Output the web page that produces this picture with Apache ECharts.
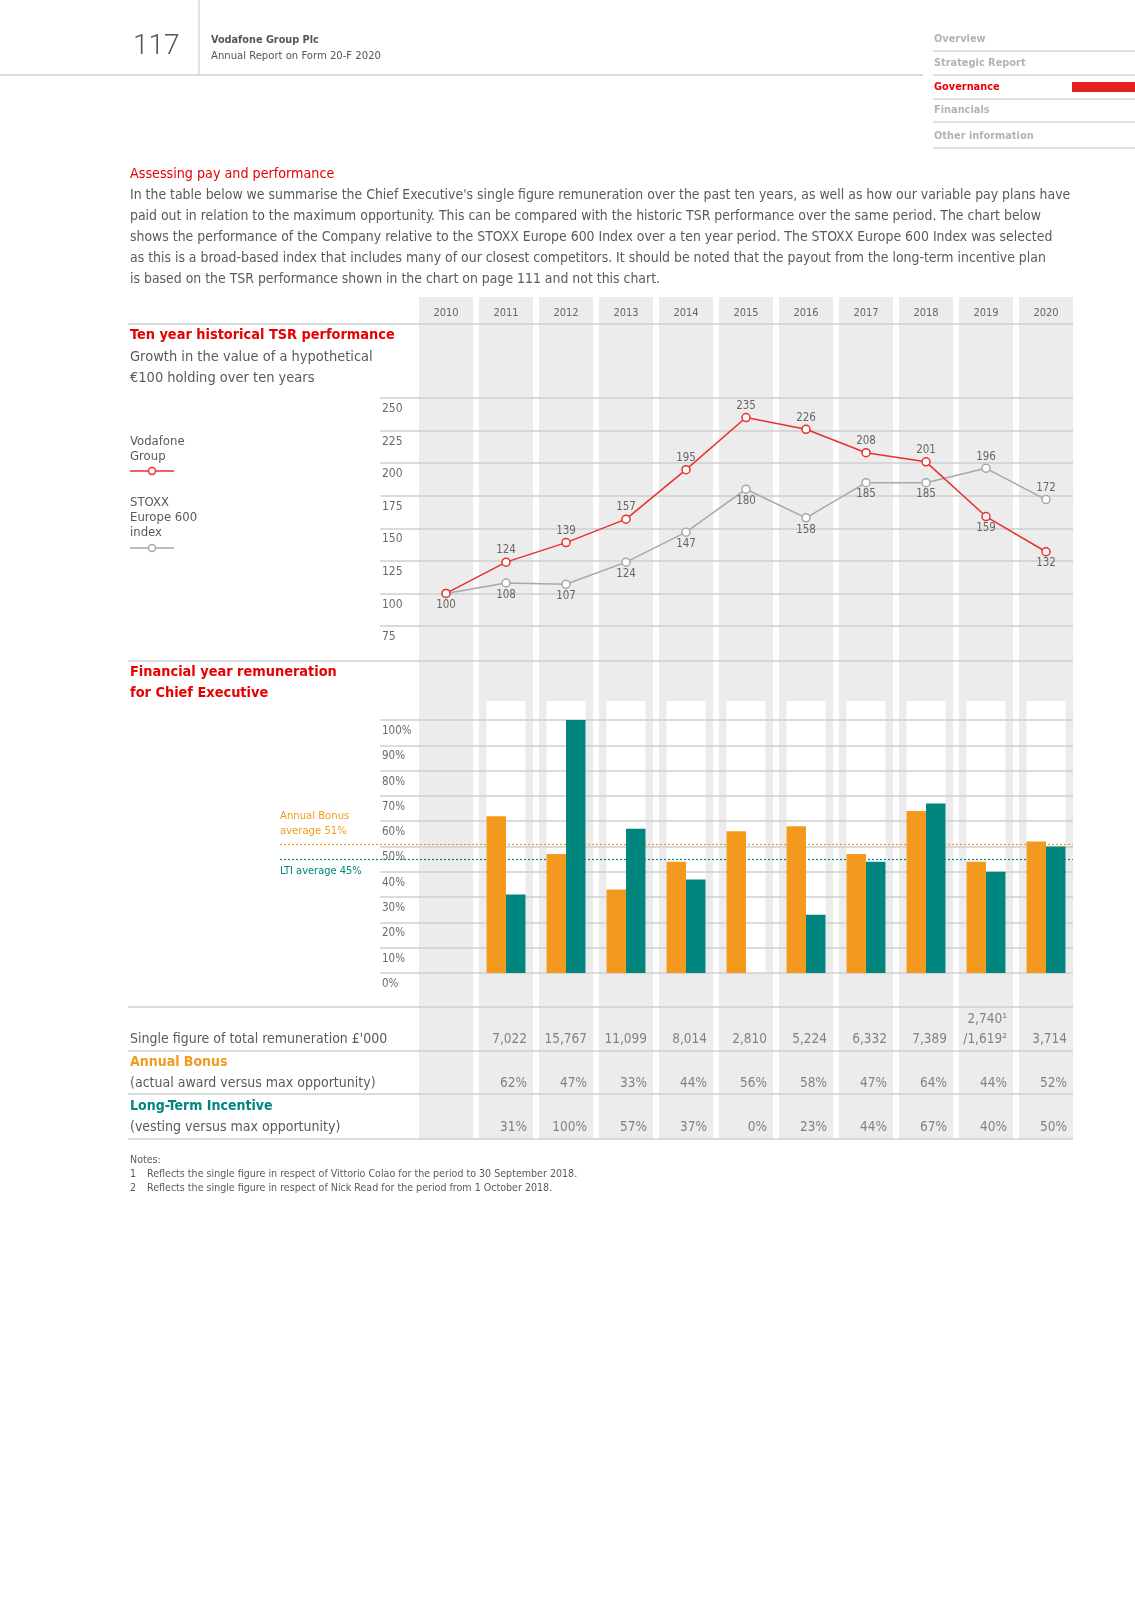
<!DOCTYPE html>
<html><head><meta charset="utf-8">
<script src="https://cdn.jsdelivr.net/npm/echarts@6/dist/echarts.min.js"></script>
<style>html,body{margin:0;padding:0;background:#fff}#c{width:1135px;height:1606px}</style>
</head><body><div id="c"></div>
<script>
// ---------- data ----------
const years = ['2010','2011','2012','2013','2014','2015','2016','2017','2018','2019','2020'];
const vodafoneTSR = [100,124,139,157,195,235,226,208,201,159,132];
const stoxxTSR    = [100,108,107,124,147,180,158,185,185,196,172];
const tsrAxisMin = 75, tsrAxisMax = 250, tsrAxisStep = 25;
const annualBonus = [null,62,47,33,44,56,58,47,64,44,52];
const longTermIncentive = [null,31,100,57,37,0,23,44,67,40,50];
const pctAxisMin = 0, pctAxisMax = 100, pctAxisStep = 10;
const bonusAverage = 51;
const ltiAverage = 45;
const singleFigure = [null,7022,15767,11099,8014,2810,5224,6332,7389,[2740,1619],3714];
const tableRowTitles = ["Single figure of total remuneration £'000", 'Annual Bonus', 'Long-Term Incentive'];
const tableRowSubtitles = ['', '(actual award versus max opportunity)', '(vesting versus max opportunity)'];
const navItems = ['Overview','Strategic Report','Governance','Financials','Other information'];
const introLines = [
  "In the table below we summarise the Chief Executive's single figure remuneration over the past ten years, as well as how our variable pay plans have",
  "paid out in relation to the maximum opportunity. This can be compared with the historic TSR performance over the same period. The chart below",
  "shows the performance of the Company relative to the STOXX Europe 600 Index over a ten year period. The STOXX Europe 600 Index was selected",
  "as this is a broad-based index that includes many of our closest competitors. It should be noted that the payout from the long-term incentive plan",
  "is based on the TSR performance shown in the chart on page 111 and not this chart."
];
const notes = [
  ['1','Reflects the single figure in respect of Vittorio Colao for the period to 30 September 2018.'],
  ['2','Reflects the single figure in respect of Nick Read for the period from 1 October 2018.']
];

// ---------- styles ----------
const F = "'DejaVu Sans Condensed','Liberation Sans',sans-serif";
const RED = '#e60000', LINE_RED = '#e8302e', GREY_LINE = '#a8a8a8';
const ORANGE = '#f39a1e', TEAL = '#00867f', TXT = '#5a5a5a', RULE = '#cfcfcf', BAND = '#ececec';

const fmtNum = v => v.toLocaleString('en-GB');
const fmtFigure = v => Array.isArray(v) ? fmtNum(v[0]) + '¹\n/' + fmtNum(v[1]) + '²' : fmtNum(v);

const chart = echarts.init(document.getElementById('c'), null, {renderer:'canvas', width:1135, height:1606});

const txt = (x, y, s, o) => Object.assign({type:'text', x, y, z:20, silent:true,
  style: Object.assign({text:s, fill:TXT, font:'14px ' + F, textVerticalAlign:'middle'}, (o||{}))});
const hline = (x1, x2, y, c, w) => ({type:'line', z:20, silent:true, shape:{x1, y1:y, x2, y2:y}, style:{stroke:c||RULE, lineWidth:w||1.5}});

const graphics = [];
// header
graphics.push(txt(133, 47, '117', {font:'300 28px Roboto, ' + F, fill:'#555'}));
graphics.push({type:'line', z:20, shape:{x1:199, y1:0, x2:199, y2:75}, style:{stroke:RULE, lineWidth:1.2}});
graphics.push(hline(0, 923, 75, RULE, 1.5));
graphics.push(txt(211, 40, 'Vodafone Group Plc', {font:'bold 10.8px ' + F, fill:'#555'}));
graphics.push(txt(211, 56, 'Annual Report on Form 20-F 2020', {font:'11.2px ' + F, fill:'#555'}));
const navY = [39, 63, 87, 110, 136];
navItems.forEach((n, i) => {
  graphics.push(txt(934, navY[i], n, {font:'bold 10.9px ' + F, fill: n === 'Governance' ? RED : '#b3b3b3'}));
  graphics.push(hline(933, 1135, navY[i] + 12, '#d6d6d6', 1.5));
});
graphics.push({type:'rect', z:20, shape:{x:1072, y:82, width:63, height:10}, style:{fill:'#e3231b'}});
// intro
graphics.push(txt(130, 174, 'Assessing pay and performance', {font:'14.2px ' + F, fill:RED}));
introLines.forEach((l, i) => graphics.push(txt(130, 195 + i * 21, l, {font:'13.9px ' + F, fill:TXT})));
// section rules
[324, 661, 1007, 1051, 1094, 1139].forEach(y => graphics.push(hline(128, 1073, y)));
// TSR section text
graphics.push(txt(130, 335, 'Ten year historical TSR performance', {font:'bold 14.4px ' + F, fill:RED}));
graphics.push(txt(130, 357, 'Growth in the value of a hypothetical', {font:'14.5px ' + F}));
graphics.push(txt(130, 378, '€100 holding over ten years', {font:'14.5px ' + F}));
// legend
graphics.push(txt(130, 442, 'Vodafone', {font:'13px ' + F}));
graphics.push(txt(130, 457, 'Group', {font:'13px ' + F}));
graphics.push(hline(130, 174, 471, LINE_RED, 1.3));
graphics.push({type:'circle', z:21, shape:{cx:152, cy:471, r:3.5}, style:{fill:'#fff', stroke:LINE_RED, lineWidth:1.5}});
graphics.push(txt(130, 503, 'STOXX', {font:'13px ' + F}));
graphics.push(txt(130, 518, 'Europe 600', {font:'13px ' + F}));
graphics.push(txt(130, 533, 'index', {font:'13px ' + F}));
graphics.push(hline(130, 174, 548, GREY_LINE, 1.3));
graphics.push({type:'circle', z:21, shape:{cx:152, cy:548, r:3.5}, style:{fill:'#fff', stroke:GREY_LINE, lineWidth:1.5}});
// remuneration section
graphics.push(txt(130, 672, 'Financial year remuneration', {font:'bold 14.4px ' + F, fill:RED}));
graphics.push(txt(130, 693, 'for Chief Executive', {font:'bold 14.4px ' + F, fill:RED}));
// notes
graphics.push(txt(130, 1160, 'Notes:', {font:'10.6px ' + F}));
notes.forEach((n, i) => {
  graphics.push(txt(130, 1174 + i * 14, n[0], {font:'10.6px ' + F}));
  graphics.push(txt(147, 1174 + i * 14, n[1], {font:'10.6px ' + F}));
});

const hiddenCat = g => ({type:'category', gridIndex:g, data:years, show:false});
const hiddenVal = (g, mn, mx) => ({type:'value', gridIndex:g, min:mn, max:mx, show:false});
const ruleAxis = (g, mn, mx, step, fmt, fs) => ({
  type:'value', gridIndex:g, min:mn, max:mx, interval:step, z:3,
  axisLine:{show:false}, axisTick:{show:false},
  splitLine:{show:true, lineStyle:{color:RULE, width:1.5}},
  axisLabel:{inside:true, margin:2, verticalAlign:'top', padding:[5,0,0,0], color:'#6a6a6a', fontSize:fs, fontFamily:F, formatter:fmt}
});

const lineLabel = {show:true, distance:1, color:'#666', fontSize:11.5, fontFamily:F};

const tableLabel = {show:true, position:'inside', align:'right', verticalAlign:'bottom', offset:[21, 20],
  color:'#666', fontSize:13.5, lineHeight:20, fontFamily:F};
const tableSeries = (rowIdx, values, fmt) => ({
  type:'scatter', xAxisIndex:7, yAxisIndex:7, symbolSize:0, silent:true, z:5,
  data: values.map((v, i) => v == null ? null : {value:[i, rowIdx], label:Object.assign({}, tableLabel, {formatter: fmt(v)})}).filter(Boolean)
});

const option = {
  animation:false,
  backgroundColor:'#fff',
  textStyle:{fontFamily:F},
  graphic: graphics,
  grid: [
    {left:416, right:59, top:297, bottom:467},   // 0 column bands
    {left:380, right:62, top:398, bottom:980},   // 1 TSR rules
    {left:416, right:59, top:398, bottom:980},   // 2 TSR lines
    {left:416, right:59, top:701, bottom:633},   // 3 bar backgrounds
    {left:380, right:62, top:720, bottom:633},   // 4 % rules
    {left:416, right:59, top:720, bottom:633},   // 5 bars
    {left:280, right:62, top:720, bottom:633},   // 6 averages
    {left:416, right:59, top:1007, bottom:467}   // 7 table
  ],
  xAxis: [
    {type:'category', gridIndex:0, data:years, position:'top', z:4,
      axisLine:{show:false}, axisTick:{show:false},
      axisLabel:{inside:true, margin:11, color:'#666', fontSize:11, fontFamily:F}},
    hiddenVal(1, 0, 1), hiddenCat(2), hiddenCat(3), hiddenVal(4, 0, 1), hiddenCat(5), hiddenVal(6, 0, 1), hiddenCat(7)
  ],
  yAxis: [
    hiddenVal(0, 0, 1),
    ruleAxis(1, tsrAxisMin, tsrAxisMax, tsrAxisStep, '{value}', 12),
    hiddenVal(2, tsrAxisMin, tsrAxisMax),
    hiddenVal(3, 0, 1),
    ruleAxis(4, pctAxisMin, pctAxisMax, pctAxisStep, '{value}%', 11.5),
    hiddenVal(5, pctAxisMin, pctAxisMax),
    hiddenVal(6, pctAxisMin, pctAxisMax),
    {type:'category', gridIndex:7, data:tableRowTitles, inverse:true,
      axisLine:{show:false}, axisTick:{show:false}, splitLine:{show:false},
      axisLabel:{margin:286, align:'left',
        formatter:(v, i) => i === 0 ? '{g| }\n{n|' + v + '}' : (i === 1 ? '{b|' : '{l|') + v + '}\n{n|' + tableRowSubtitles[i] + '}',
        rich:{
          g:{fontSize:14, lineHeight:21, fontFamily:F},
          n:{fontSize:14, lineHeight:21, color:TXT, fontFamily:F},
          b:{fontSize:14, lineHeight:21, color:ORANGE, fontWeight:'bold', fontFamily:F},
          l:{fontSize:14, lineHeight:21, color:TEAL, fontWeight:'bold', fontFamily:F}
        }}}
  ],
  series: [
    {type:'bar', name:'bands', xAxisIndex:0, yAxisIndex:0, silent:true, z:0, barWidth:54,
      itemStyle:{color:BAND}, data: years.map(() => 1)},
    {type:'bar', name:'boxes', xAxisIndex:3, yAxisIndex:3, silent:true, z:1, barWidth:39,
      itemStyle:{color:'#ffffff'}, data: annualBonus.map(v => v == null ? '-' : 1)},
    {type:'line', name:'STOXX Europe 600 index', xAxisIndex:2, yAxisIndex:2, z:6,
      symbol:'circle', symbolSize:8, color:GREY_LINE,
      itemStyle:{color:'#fff', borderColor:GREY_LINE, borderWidth:1.5},
      lineStyle:{color:GREY_LINE, width:1.5},
      data: stoxxTSR.map((s, i) => ({value:s, label:Object.assign({}, lineLabel, {position: s > vodafoneTSR[i] ? 'top' : 'bottom'})}))},
    {type:'line', name:'Vodafone Group', xAxisIndex:2, yAxisIndex:2, z:7,
      symbol:'circle', symbolSize:8, color:LINE_RED,
      itemStyle:{color:'#fff', borderColor:LINE_RED, borderWidth:1.5},
      lineStyle:{color:LINE_RED, width:1.5},
      data: vodafoneTSR.map((v, i) => ({value:v, label:Object.assign({}, lineLabel, {show: v !== stoxxTSR[i], position: v > stoxxTSR[i] ? 'top' : 'bottom'})}))},
    {type:'bar', name:'Annual Bonus', xAxisIndex:5, yAxisIndex:5, z:5, barWidth:19.5, barGap:0,
      itemStyle:{color:ORANGE}, data: annualBonus.map(v => v == null ? '-' : v)},
    {type:'bar', name:'Long-Term Incentive', xAxisIndex:5, yAxisIndex:5, z:5, barWidth:19.5, barGap:0,
      itemStyle:{color:TEAL}, data: longTermIncentive.map(v => v == null ? '-' : v)},
    {type:'line', name:'averages', xAxisIndex:6, yAxisIndex:6, z:8, data:[], silent:true,
      markLine:{symbol:'none', silent:true, animation:false,
        data:[
          {yAxis:bonusAverage, lineStyle:{color:ORANGE, type:[2,2], width:1.2},
            label:{position:'insideStartTop', distance:[0,5], formatter:'Annual Bonus\naverage ' + bonusAverage + '%', color:ORANGE, fontSize:11.2, lineHeight:15, fontFamily:F, align:'left'}},
          {yAxis:ltiAverage, lineStyle:{color:TEAL, type:[2,2], width:1.2},
            label:{position:'insideStartBottom', distance:[0,4], formatter:'LTI average ' + ltiAverage + '%', color:TEAL, fontSize:11, lineHeight:15, fontFamily:F, align:'left'}}
        ]}},
    tableSeries(0, singleFigure, fmtFigure),
    tableSeries(1, annualBonus, v => v + '%'),
    tableSeries(2, longTermIncentive, v => v + '%')
  ]
};
chart.setOption(option);
</script>
</body></html>
